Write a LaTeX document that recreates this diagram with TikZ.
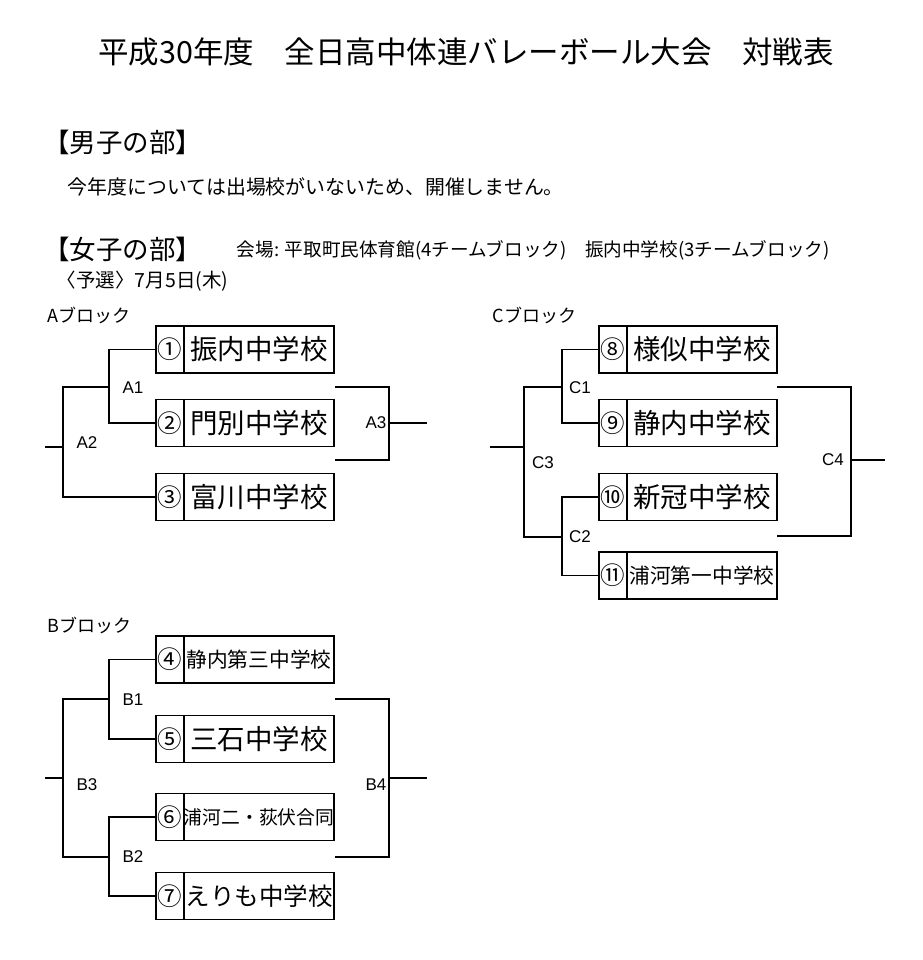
\documentclass[tikz,border=0pt]{standalone}
\usepackage{fontspec}
\setmainfont{Noto Sans CJK JP}
\newfontfamily\lat{Liberation Sans}
\begin{document}
\begin{tikzpicture}[x=1pt,y=-1pt,line width=1.9pt,
  numcell/.style={draw,minimum width=28pt,minimum height=47pt,inner sep=0pt,font=\fontsize{24.5}{25}\selectfont},
  namecell/.style={draw,minimum width=150pt,minimum height=47pt,inner sep=0pt},
  bigname/.style={font=\fontsize{27.5}{28}\selectfont},
  midname/.style={font=\fontsize{24.5}{25}\selectfont},
  smallname/.style={font=\fontsize{20.7}{21}\selectfont},
  tinyname/.style={font=\fontsize{18.8}{19}\selectfont},
  lbl/.style={font=\lat\fontsize{17}{17}\selectfont,inner sep=0pt},
  txt/.style={inner sep=0pt,anchor=west}]
\fill[white] (0,0) rectangle (922,960);
\path[use as bounding box] (0,0) rectangle (922,960);

% header texts
\node[inner sep=0pt,font=\fontsize{30.5}{31}\selectfont] (title) at (466,52) {平成30年度　全日高中体連バレーボール大会　対戦表};
\node[txt,font=\fontsize{26.5}{27}\selectfont] (boys) at (42.5,142) {【男子の部】};
\node[txt,font=\fontsize{19.9}{20}\selectfont] (boysnote) at (67,187) {今年度については出場校がいないため、開催しません。};
\node[txt,font=\fontsize{26.5}{27}\selectfont] (girls) at (42.5,249) {【女子の部】};
\node[txt,font=\fontsize{18.6}{19}\selectfont] (venue) at (236,250) {会場: 平取町民体育館(4チームブロック)　振内中学校(3チームブロック)};
\node[txt,font=\fontsize{19.5}{20}\selectfont] (date) at (56,281) {〈予選〉7月5日(木)};
\node[txt,font=\fontsize{18}{18}\selectfont] (blkA) at (47,315) {Aブロック};
\node[txt,font=\fontsize{18}{18}\selectfont] (blkC) at (492,315) {Cブロック};
\node[txt,font=\fontsize{18}{18}\selectfont] (blkB) at (47,625) {Bブロック};

% A block
\node[numcell] (n1) at (170,349.5) {①};
\node[namecell,bigname] (s1) at (259,349.5) {振内中学校};
\node[numcell] (n2) at (170,423) {②};
\node[namecell,bigname] (s2) at (259,423) {門別中学校};
\node[numcell] (n3) at (170,497) {③};
\node[namecell,bigname] (s3) at (259,497) {富川中学校};
\coordinate (jA1) at (109,387);
\coordinate (jA2) at (62.7,447);
\coordinate (sA) at (45,447);
\coordinate (tA1) at (335,387);
\coordinate (tA2) at (335,460);
\coordinate (jA3) at (389,423);
\coordinate (eA3) at (427,423);
\draw (n1.west) -| (jA1) |- (n2.west);
\draw (jA1) -| (jA2) |- (n3.west);
\draw (jA2) -- (sA);
\draw (tA1) -| (jA3) |- (tA2);
\draw (jA3) -- (eA3);
\node[lbl] (lA1) at (133,388) {A1};
\node[lbl] (lA2) at (87,443) {A2};
\node[lbl] (lA3) at (376,423) {A3};

% C block
\node[numcell] (n8) at (613,349.5) {⑧};
\node[namecell,bigname] (s8) at (702,349.5) {様似中学校};
\node[numcell] (n9) at (613,423) {⑨};
\node[namecell,bigname] (s9) at (702,423) {静内中学校};
\node[numcell] (n10) at (613,497) {⑩};
\node[namecell,bigname] (s10) at (702,497) {新冠中学校};
\node[numcell] (n11) at (613,575.5) {⑪};
\node[namecell,smallname] (s11) at (702,575.5) {浦河第一中学校};
\coordinate (jC1) at (562,387);
\coordinate (jC2) at (562,537);
\coordinate (jC3) at (524,447);
\coordinate (sC) at (490,447);
\coordinate (tC1) at (777,387);
\coordinate (tC2) at (777,536);
\coordinate (jC4) at (851,460);
\coordinate (eC4) at (885,460);
\draw (n8.west) -| (jC1) |- (n9.west);
\draw (n10.west) -| (jC2) |- (n11.west);
\draw (jC1) -| (jC3) |- (jC2);
\draw (jC3) -- (sC);
\draw (tC1) -| (jC4) |- (tC2);
\draw (jC4) -- (eC4);
\node[lbl] (lC1) at (580,388) {C1};
\node[lbl] (lC2) at (580,537) {C2};
\node[lbl] (lC3) at (543,463) {C3};
\node[lbl] (lC4) at (833,460) {C4};

% B block
\node[numcell] (n4) at (170,659.5) {④};
\node[namecell,smallname] (s4) at (259,659.5) {静内第三中学校};
\node[numcell] (n5) at (170,739) {⑤};
\node[namecell,bigname] (s5) at (259,739) {三石中学校};
\node[numcell] (n6) at (170,817) {⑥};
\node[namecell,tinyname] (s6) at (259,817) {浦河二・荻伏合同};
\node[numcell] (n7) at (170,896) {⑦};
\node[namecell,midname] (s7) at (259,896) {えりも中学校};
\coordinate (jB1) at (109,699);
\coordinate (jB2) at (109,857);
\coordinate (jB3) at (62.7,778);
\coordinate (sB) at (45,778);
\coordinate (tB1) at (335,699);
\coordinate (tB2) at (335,857);
\coordinate (jB4) at (389,778);
\coordinate (eB4) at (427,778);
\draw (n4.west) -| (jB1) |- (n5.west);
\draw (n6.west) -| (jB2) |- (n7.west);
\draw (jB1) -| (jB3) |- (jB2);
\draw (jB3) -- (sB);
\draw (tB1) -| (jB4) |- (tB2);
\draw (jB4) -- (eB4);
\node[lbl] (lB1) at (133,700) {B1};
\node[lbl] (lB2) at (133,857) {B2};
\node[lbl] (lB3) at (87,785) {B3};
\node[lbl] (lB4) at (376,785) {B4};
\end{tikzpicture}
\end{document}
